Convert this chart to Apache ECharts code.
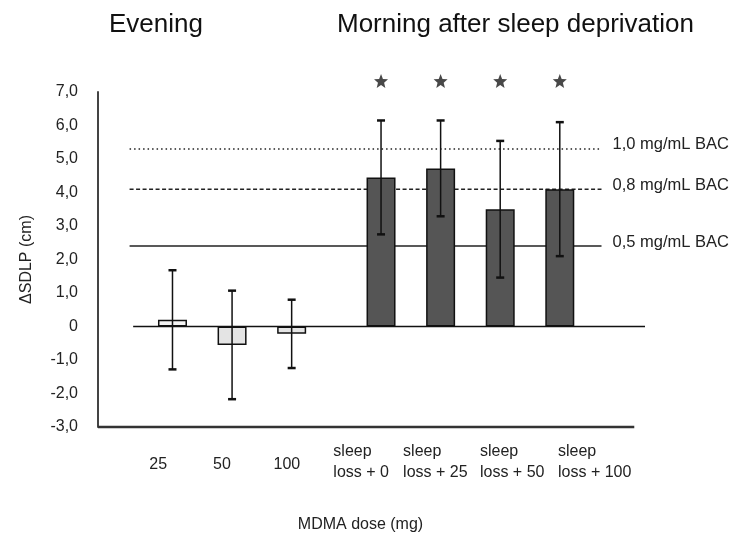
<!DOCTYPE html>
<html>
<head>
<meta charset="utf-8">
<script src="https://cdn.jsdelivr.net/npm/echarts@6/dist/echarts.min.js"></script>
<style>
  html, body { margin: 0; padding: 0; background: #fff; }
  #chart { width: 734px; height: 533px; }
</style>
</head>
<body>
<div id="chart"></div>
<script>
// Change in SDLP (cm): group means and standard deviations
const eveningDoses = ['25', '50', '100'];
const eveningMean = [0.2, -0.55, -0.22];
const eveningSD = [1.48, 1.62, 1.02];

const morningGroups = ['sleep\nloss + 0', 'sleep\nloss + 25', 'sleep\nloss + 50', 'sleep\nloss + 100'];
const morningMean = [4.45, 4.72, 3.5, 4.1];
const morningSD = [1.7, 1.43, 2.04, 2.0];
const morningSignificant = [true, true, true, true];

// SDLP increments matching blood alcohol concentrations
const bacNames = ['1,0 mg/mL BAC', '0,8 mg/mL BAC', '0,5 mg/mL BAC'];
const bacSDLP = [5.3, 4.1, 2.4];

// y axis ticks
const yTicks = [-3, -2, -1, 0, 1, 2, 3, 4, 5, 6, 7];

// ---- layout (horizontal positions in axis units) ----
const xMin = -0.25, xMax = 8.93;
const baseEnd = 8.75;
const eveningSlots = [1, 2, 3];
const morningSlots = [4.5, 5.5, 6.5, 7.5];
const eveningLabelAt = [0.76, 1.83, 2.92];
const morningLabelAt = [3.70, 4.87, 6.16, 7.47];
const refFrom = 0.28, refTo = 8.2;
const zeroFrom = 0.34, zeroTo = 8.93;
const starLevel = 7.33;
const bacStyles = [[1.5, 3], [4, 2.5], 'solid'];

const FONT = '"Liberation Sans", Arial, Helvetica, sans-serif';
const TEXT = '#222';

const fmtY = v => v === 0 ? '0' : v.toFixed(1).replace('.', ',');
const pick = (list, at, v) => {
  const i = at.findIndex(a => Math.abs(a - v) < 1e-6);
  return i < 0 ? '' : list[i];
};

const eveningFill = ['#f3f3f3', '#e4e4e4', '#e4e4e4'];
const morningFill = '#555555';

const barData = [];
const errData = [];
eveningMean.forEach((m, i) => {
  barData.push({ value: [eveningSlots[i], m], itemStyle: { color: eveningFill[i] } });
  errData.push([eveningSlots[i], m - eveningSD[i], m + eveningSD[i]]);
});
morningMean.forEach((m, i) => {
  barData.push({ value: [morningSlots[i], m], itemStyle: { color: morningFill } });
  errData.push([morningSlots[i], m - morningSD[i], m + morningSD[i]]);
});
const starData = morningSlots.filter((s, i) => morningSignificant[i]).map(s => [s, starLevel]);

const bacSeries = bacSDLP.map((v, i) => ({
  type: 'line',
  data: [[refFrom, v], [refTo, v]],
  symbol: 'none',
  silent: true,
  z: 1,
  lineStyle: { color: '#222', width: 1.5, type: bacStyles[i] },
  endLabel: {
    show: true,
    formatter: bacNames[i],
    distance: 11,
    offset: [0, -4],
    fontFamily: FONT,
    fontSize: 16.5,
    color: TEXT
  }
}));

const chart = echarts.init(document.getElementById('chart'), null, { renderer: 'canvas' });
chart.setOption({
  animation: false,
  backgroundColor: '#fff',
  textStyle: { fontFamily: FONT },
  title: [
    { text: 'Evening', left: 104, top: 7, textStyle: { fontFamily: FONT, fontSize: 26, fontWeight: 'normal', color: '#111' } },
    { text: 'Morning after sleep deprivation', left: 332, top: 7, textStyle: { fontFamily: FONT, fontSize: 26, fontWeight: 'normal', color: '#111' } }
  ],
  grid: { left: 98, right: 89, top: 92, bottom: 106, containLabel: false, outerBoundsMode: 'none' },
  xAxis: [
    {
      type: 'value', min: xMin, max: xMax,
      axisLine: { show: false, onZero: false },
      axisTick: { show: false },
      splitLine: { show: false },
      axisLabel: {
        customValues: eveningLabelAt,
        formatter: v => pick(eveningDoses, eveningLabelAt, v),
        fontSize: 16, color: TEXT, margin: 30, fontFamily: FONT
      },
      name: 'MDMA dose (mg)', nameLocation: 'middle', nameGap: 90,
      nameTextStyle: { fontSize: 16, color: TEXT, fontFamily: FONT, padding: [0, 22, 0, 0] }
    },
    {
      type: 'value', min: xMin, max: xMax, position: 'bottom',
      axisLine: { show: false, onZero: false },
      axisTick: { show: false },
      splitLine: { show: false },
      axisLabel: {
        customValues: morningLabelAt,
        formatter: v => pick(morningGroups, morningLabelAt, v),
        align: 'left', lineHeight: 21,
        fontSize: 16, color: TEXT, margin: 14, fontFamily: FONT
      }
    }
  ],
  yAxis: {
    type: 'value', min: yTicks[0], max: yTicks[yTicks.length - 1], interval: 1,
    axisLine: { show: true, onZero: false, lineStyle: { color: '#444', width: 2 } },
    axisTick: { show: false },
    splitLine: { show: false },
    axisLabel: { formatter: fmtY, fontSize: 16, color: TEXT, margin: 20, fontFamily: FONT },
    name: 'ΔSDLP (cm)', nameLocation: 'middle', nameGap: 63,
    nameTextStyle: { fontSize: 16, color: TEXT, fontFamily: FONT }
  },
  series: [
    ...bacSeries,
    {
      // x baseline along the bottom of the plot
      type: 'line',
      data: [[xMin, yTicks[0]], [baseEnd, yTicks[0]]],
      symbol: 'none', silent: true, clip: false, z: 2,
      lineStyle: { color: '#333', width: 2.5 }
    },
    {
      type: 'line',
      data: [[zeroFrom, 0], [zeroTo, 0]],
      symbol: 'none', silent: true, clip: false, z: 4,
      lineStyle: { color: '#111', width: 1.5 }
    },
    {
      type: 'bar',
      data: barData,
      barWidth: 29,
      z: 3,
      itemStyle: { borderColor: '#111', borderWidth: 1.5 }
    },
    {
      type: 'custom',
      data: errData,
      encode: { x: 0, y: [1, 2] },
      z: 5,
      renderItem: (params, api) => {
        const x = api.value(0);
        const top = api.coord([x, api.value(2)]);
        const bot = api.coord([x, api.value(1)]);
        const cap = 4;
        const stroke = '#111';
        return {
          type: 'group',
          children: [
            { type: 'line', shape: { x1: top[0], y1: top[1], x2: bot[0], y2: bot[1] }, style: { stroke, lineWidth: 1.5 } },
            { type: 'line', shape: { x1: top[0] - cap, y1: top[1], x2: top[0] + cap, y2: top[1] }, style: { stroke, lineWidth: 2.5 } },
            { type: 'line', shape: { x1: bot[0] - cap, y1: bot[1], x2: bot[0] + cap, y2: bot[1] }, style: { stroke, lineWidth: 2.5 } }
          ]
        };
      }
    },
    {
      type: 'scatter',
      data: starData,
      clip: false,
      symbol: 'path://M50,0L62.9,32.2L97.6,34.5L70.9,56.8L79.4,90.5L50,72L20.6,90.5L29.1,56.8L2.4,34.5L37.1,32.2Z',
      symbolSize: 14,
      itemStyle: { color: '#1a1a1a' },
      z: 6
    }
  ]
});
</script>
</body>
</html>
